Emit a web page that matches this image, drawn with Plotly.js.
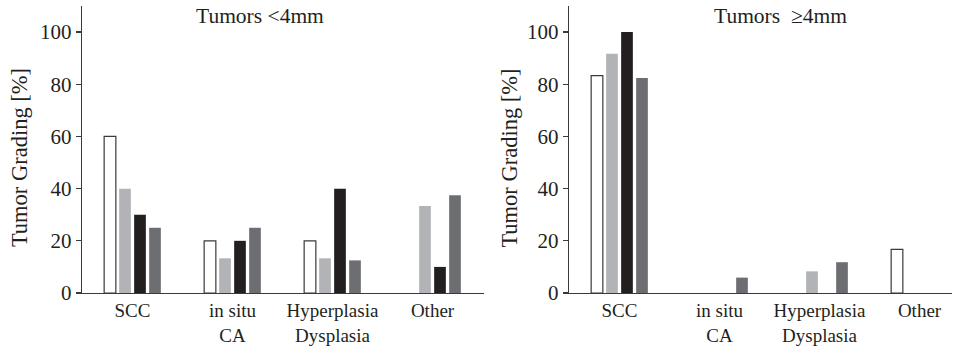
<!DOCTYPE html>
<html>
<head>
<meta charset="utf-8">
<script src="https://cdn.plot.ly/plotly-3.0.1.min.js"></script>
<style>html,body{margin:0;padding:0;background:#fff;}#chart{width:954px;height:347px;}</style>
</head>
<body>
<div id="chart"></div>
<script>
var categories = ["SCC", "in situ<br>CA", "Hyperplasia<br>Dysplasia", "Other"];
// Tumors <4mm
var smallS1 = [60, 20, 20, 0];
var smallS2 = [40, 13.3, 13.3, 33.3];
var smallS3 = [30, 20, 40, 10];
var smallS4 = [25, 25, 12.5, 37.5];
// Tumors >=4mm
var largeS1 = [83.3, 0, 0, 16.7];
var largeS2 = [91.7, 0, 8.3, 0];
var largeS3 = [100, 0, 0, 0];
var largeS4 = [82.4, 5.9, 11.8, 0];
var yTicks = [0, 20, 40, 60, 80, 100];

var fills = ["#ffffff", "#b2b3b7", "#231f20", "#6d6e72"];
var lines = ["#3a3a3a", "#b2b3b7", "#231f20", "#6d6e72"];
var lw = [1.2, 0, 0, 0];

function mk(y, i, xa, ya) {
  return {type: "bar", x: categories, y: y, xaxis: xa, yaxis: ya,
    marker: {color: fills[i], line: {color: lines[i], width: y.map(function(v){ return v > 0 ? lw[i] : 0; })}},
    showlegend: false, hoverinfo: "skip"};
}
var data = [];
[smallS1, smallS2, smallS3, smallS4].forEach(function(s, i){ data.push(mk(s, i, "x", "y")); });
[largeS1, largeS2, largeS3, largeS4].forEach(function(s, i){ data.push(mk(s, i, "x2", "y2")); });

var fam = "'Liberation Serif', 'DejaVu Serif', serif";
var tc = "#231f20";
var font = {family: fam, size: 20, color: tc};
var catFont = {family: fam, size: 19, color: tc};
var tickFont = {family: fam, size: 21, color: tc};
var titleFont = {family: fam, size: 21.5, color: tc};
var yTitleFont = {family: fam, size: 22.5, color: tc};
function xax(domain, anchor, range) {
  return {domain: domain, anchor: anchor, type: "category", range: range,
    showline: true, linecolor: "#3a3a3a", linewidth: 1.3, ticks: "", showgrid: false,
    zeroline: false, tickfont: catFont, fixedrange: true};
}
function yax(anchor) {
  return {anchor: anchor, range: [0, 110], tickvals: yTicks, ticktext: yTicks.map(String),
    showline: true, linecolor: "#3a3a3a", linewidth: 1.3, ticks: "outside", ticklen: 5,
    tickcolor: "#3a3a3a", tickwidth: 1.3, showgrid: false, zeroline: false, tickfont: tickFont};
}
var layout = {
  width: 954, height: 347,
  margin: {l: 0, r: 0, t: 6, b: 54},
  paper_bgcolor: "#fff", plot_bgcolor: "rgba(0,0,0,0)",
  barmode: "group", bargap: 0.4, bargroupgap: 0.22,
  font: font,
  xaxis: xax([82/954, 484/954], "y", [-0.505, 3.515]),
  yaxis: yax("x"),
  xaxis2: xax([569/954, 952/954], "y2", [-0.505, 3.325]),
  yaxis2: yax("x2"),
  annotations: [
    {text: "Tumors <4mm", xref: "paper", yref: "paper", x: 259.5/954, y: 0.965, showarrow: false, font: titleFont, xanchor: "center", yanchor: "middle"},
    {text: "Tumors  ≥4mm", xref: "paper", yref: "paper", x: 780/954, y: 0.965, showarrow: false, font: titleFont, xanchor: "center", yanchor: "middle"},
    {text: "Tumor Grading [%]", xref: "paper", yref: "paper", x: 19/954, y: 0.47, textangle: -90, showarrow: false, font: yTitleFont, xanchor: "center", yanchor: "middle"},
    {text: "Tumor Grading [%]", xref: "paper", yref: "paper", x: 509.5/954, y: 0.47, textangle: -90, showarrow: false, font: yTitleFont, xanchor: "center", yanchor: "middle"}
  ]
};
Plotly.newPlot("chart", data, layout, {displayModeBar: false, staticPlot: true});
</script>
</body>
</html>
